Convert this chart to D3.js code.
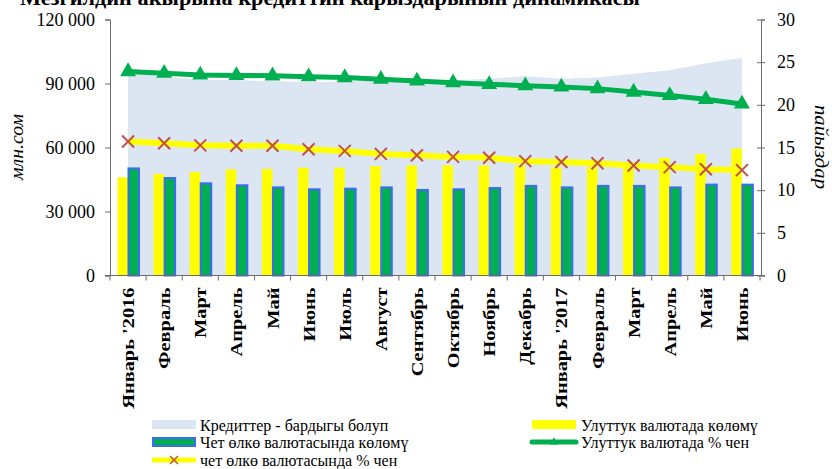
<!DOCTYPE html>
<html>
<head>
<meta charset="utf-8">
<script src="https://cdn.jsdelivr.net/npm/d3@7"></script>
<style>
  body { margin: 0; background: #fff; }
  text { font-family: "Liberation Serif", "Times New Roman", serif; }
</style>
</head>
<body>
<div id="chart"></div>
<script>
// months on the x axis
var months = ["Январь '2016", "Февраль", "Март", "Апрель", "Май", "Июнь", "Июль", "Август",
  "Сентябрь", "Октябрь", "Ноябрь", "Декабрь", "Январь '2017", "Февраль", "Март", "Апрель", "Май", "Июнь"];

// млн. сом (left axis)
var totalLoans = [95500, 93300, 91800, 91600, 91000, 90700, 90800, 91500, 91200,
  91500, 92200, 93400, 92200, 92800, 94600, 96200, 99500, 101900];
var nationalVolume = [46000, 47600, 48500, 49800, 49900, 50500, 50500, 51300, 51600,
  51600, 51600, 51600, 50700, 51000, 52600, 55100, 57000, 59500];
var foreignVolume = [50200, 45700, 43200, 42300, 41300, 40400, 40700, 41300, 40100,
  40400, 41000, 42000, 41300, 42000, 42000, 41300, 42600, 42600];

// пайыздар (right axis)
var nationalRate = [23.9, 23.7, 23.5, 23.45, 23.4, 23.3, 23.2, 23.0, 22.8,
  22.6, 22.4, 22.25, 22.1, 21.9, 21.5, 21.1, 20.65, 20.1];
var foreignRate = [15.7, 15.5, 15.25, 15.2, 15.2, 14.8, 14.6, 14.25, 14.1,
  13.9, 13.8, 13.4, 13.3, 13.15, 12.9, 12.7, 12.45, 12.35];

var leftTicks = [0, 30000, 60000, 90000, 120000];
var rightTicks = [0, 5, 10, 15, 20, 25, 30];

var W = 832, H = 469;
var plotLeft = 110, plotRight = 761, plotTop = 19.5, plotBottom = 275.5;

var svg = d3.select("#chart").append("svg")
  .attr("width", W)
  .attr("height", H);

// title (cut off at the top in the original)
svg.append("text")
  .attr("x", 20)
  .attr("y", 5)
  .attr("font-size", 20)
  .attr("font-weight", "bold")
  .attr("textLength", 620)
  .attr("lengthAdjust", "spacingAndGlyphs")
  .text("Мезгилдин акырына кредиттин карыздарынын динамикасы");

var x = d3.scaleBand()
  .domain(d3.range(months.length))
  .range([plotLeft, plotRight - 1]);

var xs = d3.scaleBand()
  .domain(["nat", "for"])
  .range([7.5, 28.5]);

var yL = d3.scaleLinear().domain([0, 120000]).range([plotBottom, plotTop]);
var yR = d3.scaleLinear().domain([0, 30]).range([plotBottom, plotTop]);

function cx(i) { return x(i) + x.bandwidth() / 2; }

// area: total loans
var area = d3.area()
  .x(function(d, i) { return cx(i); })
  .y0(yL(0))
  .y1(function(d) { return yL(d); });

svg.append("path")
  .datum(totalLoans)
  .attr("d", area)
  .attr("fill", "#dce6f2");

// bars
svg.append("g").selectAll("rect")
  .data(nationalVolume)
  .enter().append("rect")
    .attr("x", function(d, i) { return x(i) + xs("nat"); })
    .attr("y", function(d) { return yL(d); })
    .attr("width", xs.bandwidth())
    .attr("height", function(d) { return yL(0) - yL(d); })
    .attr("fill", "#ffff00");

svg.append("g").selectAll("rect")
  .data(foreignVolume)
  .enter().append("rect")
    .attr("x", function(d, i) { return x(i) + xs("for") + 0.5; })
    .attr("y", function(d) { return yL(d); })
    .attr("width", xs.bandwidth())
    .attr("height", function(d) { return yL(0) - yL(d); })
    .attr("fill", "#00b050")
    .attr("stroke", "#3d6bf5")
    .attr("stroke-width", 2);

// axes
var axisColor = "#6b6b6b";

var fmt = function(d) { return d3.format(",")(d).replace(/,/g, " "); };

var gL = svg.append("g")
  .attr("transform", "translate(" + plotLeft + ",0)")
  .call(d3.axisLeft(yL).tickValues(leftTicks).tickSize(5).tickPadding(10).tickFormat(fmt));

var gR = svg.append("g")
  .attr("transform", "translate(" + plotRight + ",0)")
  .call(d3.axisRight(yR).tickValues(rightTicks).tickSize(4).tickPadding(12));
gR.selectAll(".tick line").attr("x1", -4);

var gX = svg.append("g")
  .attr("transform", "translate(0," + plotBottom + ")");
gX.append("line")
  .attr("x1", plotLeft - 5).attr("x2", plotRight + 4)
  .attr("stroke", axisColor);
gX.selectAll(".xt")
  .data(d3.range(months.length + 1))
  .enter().append("line")
    .attr("class", "xt")
    .attr("x1", function(i) { return plotLeft + i * x.bandwidth(); })
    .attr("x2", function(i) { return plotLeft + i * x.bandwidth(); })
    .attr("y1", 0).attr("y2", 5)
    .attr("stroke", axisColor);

gX.selectAll(".xl")
  .data(months)
  .enter().append("text")
    .attr("class", "xl")
    .attr("transform", function(d, i) {
      return "translate(" + (cx(i) + 6) + ",12) rotate(-90) scale(1.2,1)";
    })
    .attr("text-anchor", "end")
    .attr("font-size", 17)
    .attr("font-weight", "bold")
    .text(function(d) { return d; });

[gL, gR].forEach(function(g) {
  g.select(".domain").attr("stroke", axisColor);
  g.selectAll(".tick line").attr("stroke", axisColor);
  g.selectAll(".tick text")
    .attr("font-family", "Liberation Serif")
    .attr("font-size", 18)
    .attr("fill", "#000");
});

// axis titles
svg.append("text")
  .attr("transform", "translate(23,147) rotate(-90) scale(1.1,1)")
  .attr("text-anchor", "middle")
  .attr("font-size", 18)
  .attr("font-style", "italic")
  .text("млн.сом");

svg.append("text")
  .attr("transform", "translate(815,147) rotate(90) scale(1.15,1)")
  .attr("text-anchor", "middle")
  .attr("font-size", 18)
  .attr("font-style", "italic")
  .text("пайыздар");

// lines
var lineR = d3.line()
  .x(function(d, i) { return cx(i); })
  .y(function(d) { return yR(d); });

svg.append("path")
  .datum(foreignRate)
  .attr("d", lineR)
  .attr("fill", "none")
  .attr("stroke", "#ffff00")
  .attr("stroke-width", 6);

svg.append("g").selectAll("path")
  .data(foreignRate)
  .enter().append("path")
    .attr("transform", function(d, i) { return "translate(" + cx(i) + "," + yR(d) + ")"; })
    .attr("d", "M-6,-6L6,6M-6,6L6,-6")
    .attr("stroke", "#c0504d")
    .attr("stroke-width", 2);

svg.append("path")
  .datum(nationalRate)
  .attr("d", lineR)
  .attr("fill", "none")
  .attr("stroke", "#00b050")
  .attr("stroke-width", 5);

var tri = d3.symbol().type(d3.symbolTriangle).size(110);
svg.append("g").selectAll("path")
  .data(nationalRate)
  .enter().append("path")
    .attr("transform", function(d, i) { return "translate(" + cx(i) + "," + yR(d) + ")"; })
    .attr("d", tri)
    .attr("fill", "#00b050");

// legend
var lg = svg.append("g");
var legFont = 16;

function legText(xp, yp, t) {
  lg.append("text")
    .attr("x", xp).attr("y", yp + 5.5)
    .attr("font-size", legFont)
    .text(t);
}

lg.append("rect").attr("x", 152).attr("y", 420).attr("width", 44).attr("height", 9).attr("fill", "#dce6f2");
legText(200, 425, "Кредиттер - бардыгы болуп");

lg.append("rect").attr("x", 153).attr("y", 438).attr("width", 42).attr("height", 8)
  .attr("fill", "#00b050").attr("stroke", "#3d6bf5").attr("stroke-width", 2);
legText(200, 442, "Чет өлкө валютасында көлөмү");

lg.append("line").attr("x1", 152).attr("x2", 196).attr("y1", 460).attr("y2", 460)
  .attr("stroke", "#ffff00").attr("stroke-width", 5);
lg.append("path").attr("transform", "translate(174,460)").attr("d", "M-4,-4L4,4M-4,4L4,-4")
  .attr("stroke", "#c0504d").attr("stroke-width", 1.5);
legText(200, 460, "чет өлкө валютасында % чен");

lg.append("rect").attr("x", 532).attr("y", 420).attr("width", 44).attr("height", 9).attr("fill", "#ffff00");
legText(581, 425, "Улуттук валютада көлөмү");

lg.append("line").attr("x1", 532).attr("x2", 576).attr("y1", 442).attr("y2", 442)
  .attr("stroke", "#00b050").attr("stroke-width", 5).attr("stroke-linecap", "round");
lg.append("path").attr("transform", "translate(554,442)")
  .attr("d", d3.symbol().type(d3.symbolTriangle).size(30)).attr("fill", "#00b050");
legText(581, 442, "Улуттук валютада % чен");
</script>
</body>
</html>
